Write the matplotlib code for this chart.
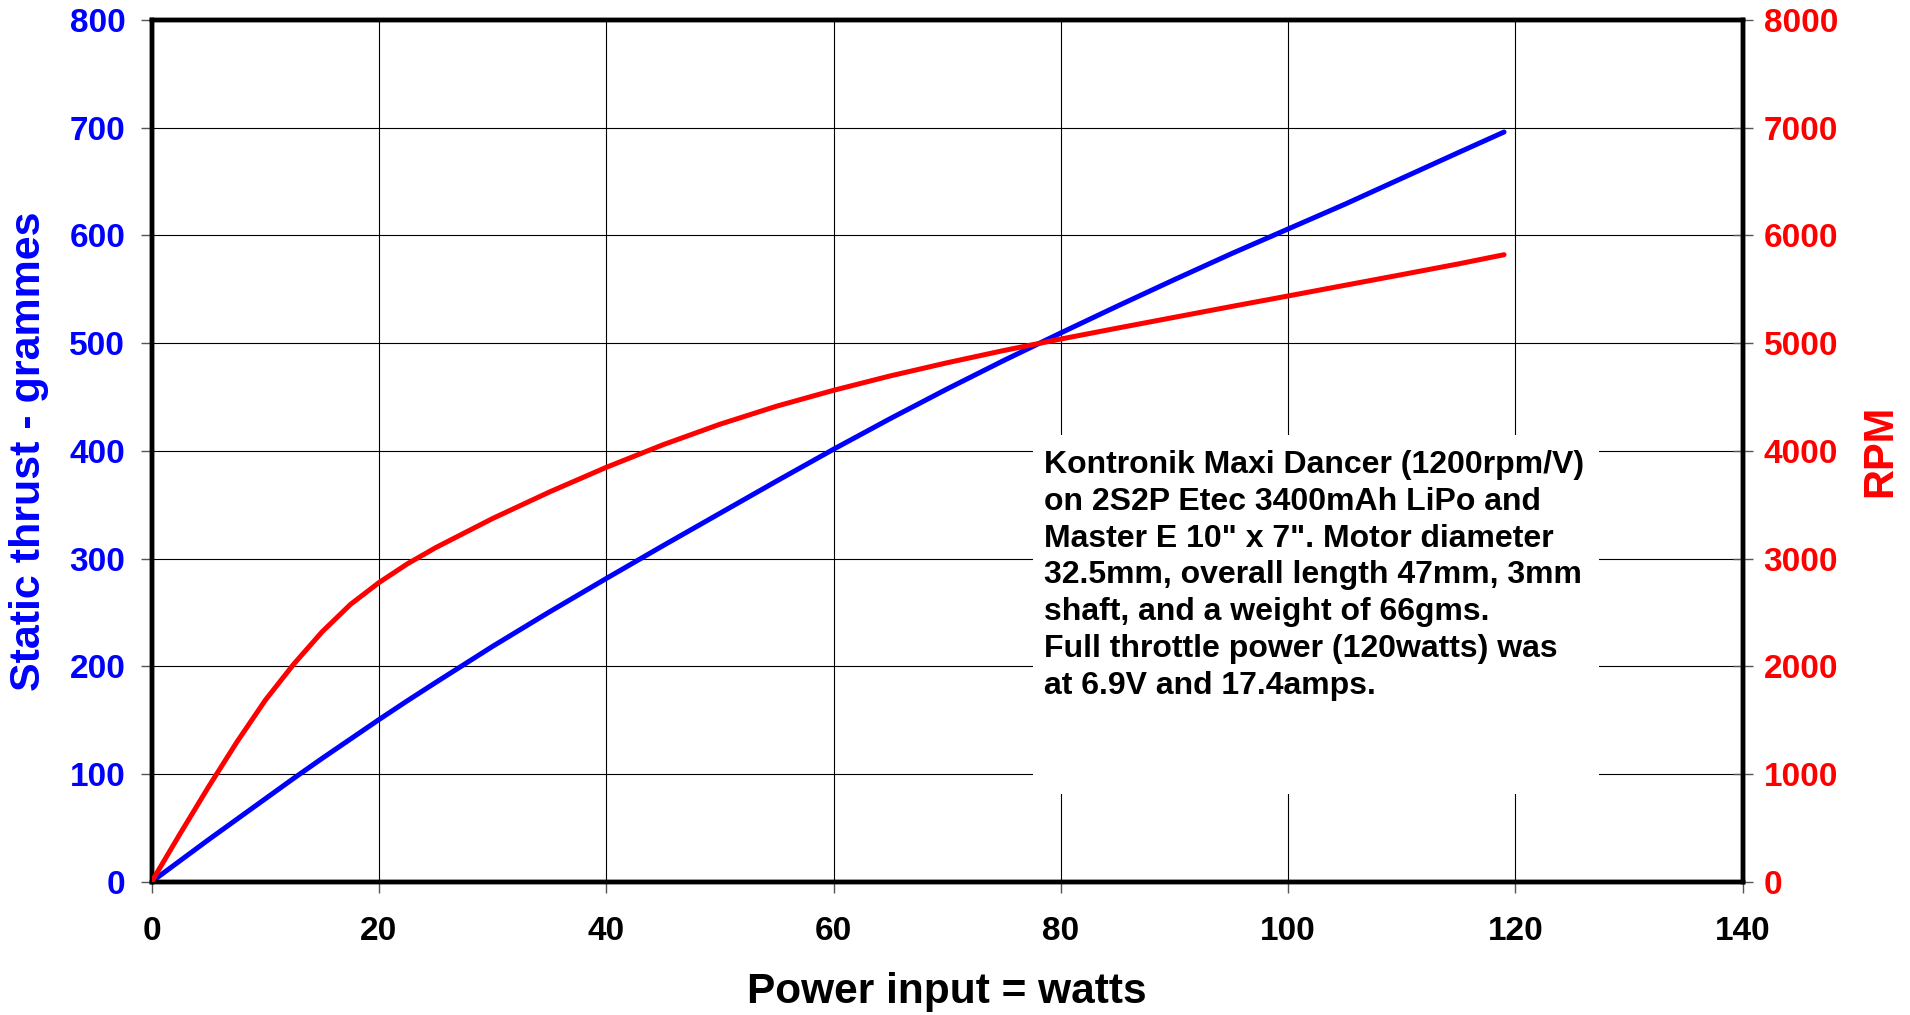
import numpy as np
import matplotlib.pyplot as plt

# values
power = [0, 2.5, 5, 7.5, 10, 12.5, 15, 17.5, 20, 22.5, 25, 30, 35, 40, 45, 50, 55,
         60, 65, 70, 75, 80, 85, 90, 95, 100, 105, 110, 115, 119]
thrust = [0, 19.5, 39, 58, 77, 96, 114.5, 132.5, 150.5, 168, 185, 218.5, 250.5, 281.5, 312, 342, 372,
          401.5, 430, 457.5, 484, 509.5, 534.5, 559, 583, 606, 629, 653, 677, 696]
rpm = [0, 445, 880, 1297, 1685, 2020, 2320, 2575, 2777, 2951, 3102, 3372, 3618, 3847, 4057, 4247, 4415,
       4562, 4696, 4818, 4932, 5038, 5140, 5240, 5340, 5438, 5537, 5636, 5736, 5821]

xticks = list(range(0, 141, 20))
thrustTicks = list(range(0, 801, 100))
rpmTicks = list(range(0, 8001, 1000))

note = ("Kontronik Maxi Dancer (1200rpm/V)\n"
        "on 2S2P Etec 3400mAh LiPo and\n"
        "Master E 10\" x 7\". Motor diameter\n"
        "32.5mm, overall length 47mm, 3mm\n"
        "shaft, and a weight of 66gms.\n"
        "Full throttle power (120watts) was\n"
        "at 6.9V and 17.4amps.")

plt.rcParams['font.family'] = ['Liberation Sans', 'DejaVu Sans']
plt.rcParams['font.weight'] = 'bold'

fig = plt.figure(figsize=(19.1, 10.15), dpi=100)
ax = fig.add_axes([0.0794, 0.1313, 0.8330, 0.8490])
ax2 = ax.twinx()

ax.set_xlim(0, 140)
ax.set_ylim(0, 800)
ax2.set_ylim(0, 8000)
ax.set_xticks(xticks)
ax.set_yticks(thrustTicks)
ax2.set_yticks(rpmTicks)

ax.grid(True, color='black', linewidth=0.8)
ax.set_axisbelow(True)

# white panel behind the note, hides the grid
ax.add_patch(plt.Rectangle((77.55, 81.5), 49.85, 333.2, facecolor='white',
                           edgecolor='none', zorder=1.5))
ax.text(78.5, 401, note, fontsize=23, fontweight='bold', color='black',
        ha='left', va='top', linespacing=1.30, zorder=3)

ax.plot(power, thrust, color='#0000FF', linewidth=3.6, zorder=4,
        solid_capstyle='round', solid_joinstyle='round')
ax2.plot(power, rpm, color='#FF0000', linewidth=3.6, zorder=4,
         solid_capstyle='round', solid_joinstyle='round')

for a in (ax, ax2):
    for s in a.spines.values():
        s.set_linewidth(3.2)
        s.set_color('black')
    a.patch.set_visible(False)

ax.tick_params(axis='x', direction='out', length=8, width=1, color='#555555',
               pad=17, labelsize=24, labelcolor='black')
ax.tick_params(axis='y', direction='out', length=8, width=1, color='#555555',
               pad=11, labelsize=24, labelcolor='#0000FF')
ax2.tick_params(axis='y', direction='inout', length=14, width=1, color='#555555',
                pad=8, labelsize=24, labelcolor='#FF0000')

for lab in ax.get_xticklabels() + ax.get_yticklabels() + ax2.get_yticklabels():
    lab.set_fontweight('bold')

ax.set_xlabel("Power input = watts", fontsize=30.5, fontweight='bold', color='black')
ax.xaxis.set_label_coords(0.5, -0.105)
ax.set_ylabel("Static thrust - grammes", fontsize=31, fontweight='bold', color='#0000FF')
ax.yaxis.set_label_coords(-0.0645, 0.5)
ax2.set_ylabel("RPM", fontsize=30, fontweight='bold', color='#FF0000')
ax2.yaxis.set_label_coords(1.074, 0.5)

ax.set_zorder(ax2.get_zorder() - 1)
ax2.patch.set_visible(False)
fig.patch.set_facecolor('white')

fig.savefig("out.png", dpi=100, facecolor='white')
